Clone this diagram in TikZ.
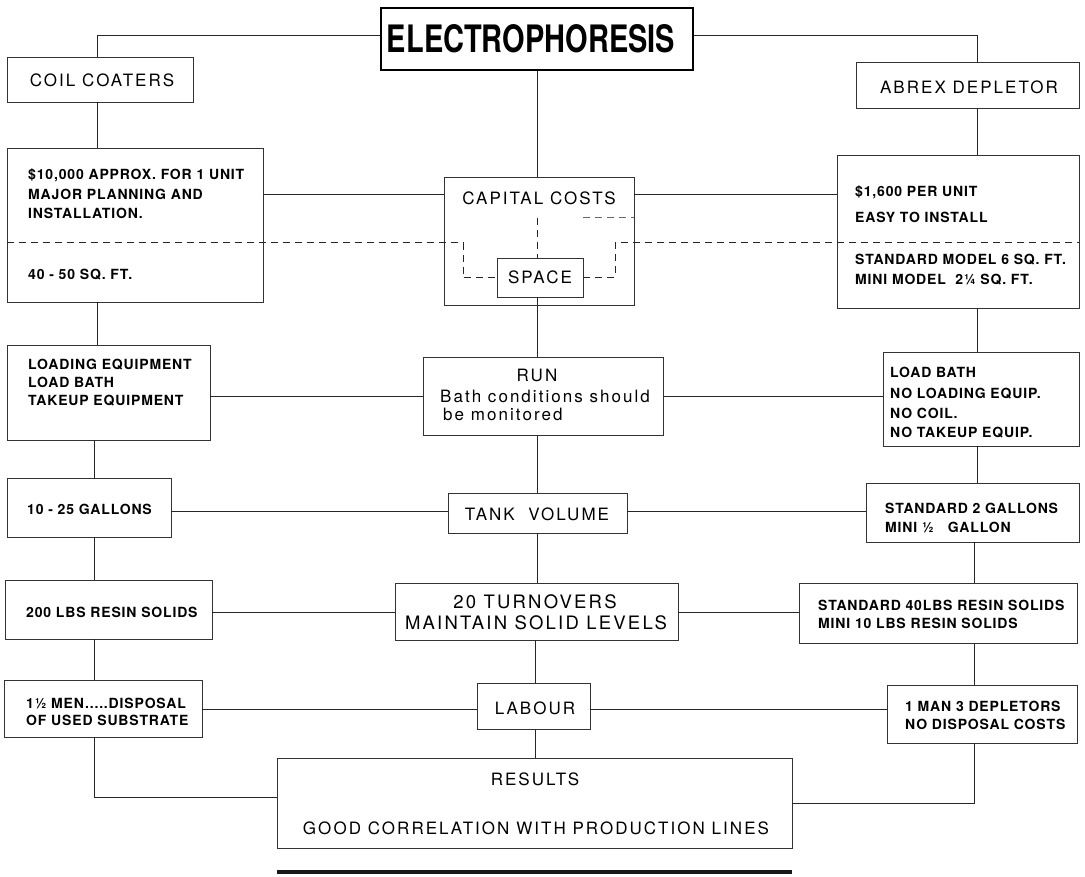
\documentclass[tikz,border=0pt]{standalone}
\usepackage{fontspec}
\usepackage{graphicx}
\setmainfont{TeX Gyre Heros}
\newfontfamily\litefont[LetterSpace=12]{TeX Gyre Heros}
\newfontfamily\smfont[LetterSpace=6]{TeX Gyre Heros}
\newcommand\mkbox[6][]{\node[box,#1,minimum width={(#5-#3)*1pt},minimum height={(#6-#4)*1pt}] (#2) at ({(#3+#5)/2},{(#4+#6)/2}) {};}
\tikzset{
  box/.style={draw=black!80,line width=0.75pt,inner sep=0pt,rectangle},
  conn/.style={draw=black!85,line width=1pt},
  dsh/.style={conn,dash pattern=on 7pt off 5pt},
  sm/.style={font=\smfont\fontsize{14}{14}\selectfont\bfseries,inner sep=0pt,anchor=west,text height=10pt,text depth=0pt},
  lt/.style={font=\litefont\fontsize{17}{17}\selectfont,inner sep=0pt,text height=12.2pt,text depth=0pt},
}
\begin{document}
\begin{tikzpicture}[x=1pt,y=-1pt]
\useasboundingbox (0,0) rectangle (1085,877);
% boxes
\mkbox[line width=2.6pt,draw=black]{title}{381}{8}{693}{70}
\mkbox{coil}{7}{57}{193}{102}
\mkbox{abrex}{856}{62}{1079}{108}
\mkbox{capL}{7}{148}{263}{302}
\mkbox{cap}{444}{177}{634}{305}
\mkbox[line width=0.6pt]{space}{497}{258}{583}{297}
\mkbox{capR}{837}{155}{1079}{308}
\mkbox{loadL}{7}{345}{210}{440}
\mkbox{run}{423}{357}{663}{435}
\mkbox{loadR}{883}{352}{1079}{446}
\mkbox{galL}{7}{478}{171}{537}
\mkbox{tank}{448}{493}{627}{533}
\mkbox{galR}{866}{483}{1079}{542}
\mkbox{resL}{5}{580}{212}{639}
\mkbox{turn}{395}{583}{678}{640}
\mkbox{resR}{799}{583}{1077}{643}
\mkbox{labL}{4}{680}{202}{737}
\mkbox{lab}{477}{683}{590}{729}
\mkbox{labR}{887}{685}{1077}{743}
\mkbox{res}{277}{758}{792}{848}
% texts
\node[inner sep=0pt,font=\bfseries] (ttl) at (531,39) {\resizebox{288pt}{28pt}{ELECTROPHORESIS}};
\node[lt] (tcoil) at (102,80) {COIL COATERS};
\node[lt] (tabrex) at (969,87) {ABREX DEPLETOR};
\node[sm] (a1) at (28,175) {\$10,000 APPROX. FOR 1 UNIT};
\node[sm] (a2) at (28,195) {MAJOR PLANNING AND};
\node[sm] (a3) at (28,214) {INSTALLATION.};
\node[sm] (a4) at (28,275) {40 - 50 SQ. FT.};
\node[lt] (tcap) at (539,198) {CAPITAL COSTS};
\node[lt] (tspace) at (540,277) {SPACE};
\node[sm] (b1) at (855,192) {\$1,600 PER UNIT};
\node[sm] (b2) at (855,218) {EASY TO INSTALL};
\node[sm] (b3) at (855,260) {STANDARD MODEL 6 SQ. FT.};
\node[sm] (b4) at (855,280) {MINI MODEL\ \ 2¼ SQ. FT.};
\node[sm] (c1) at (28,365) {LOADING EQUIPMENT};
\node[sm] (c2) at (28,383) {LOAD BATH};
\node[sm] (c3) at (28,401) {TAKEUP EQUIPMENT};
\node[lt] (trun) at (537,375) {RUN};
\node[lt,anchor=west] (trun2) at (440,396) {Bath conditions should};
\node[lt,anchor=west] (trun3) at (443,414) {be monitored};
\node[sm] (d1) at (890,373) {LOAD BATH};
\node[sm] (d2) at (890,394) {NO LOADING EQUIP.};
\node[sm] (d3) at (890,413) {NO COIL.};
\node[sm] (d4) at (890,433) {NO TAKEUP EQUIP.};
\node[sm] (e1) at (27,509) {10 - 25 GALLONS};
\node[lt] (ttank) at (537,514) {TANK\ \ VOLUME};
\node[sm] (f1) at (885,508) {STANDARD 2 GALLONS};
\node[sm] (f2) at (885,527) {MINI ½\ \ \ GALLON};
\node[sm] (g1) at (26,612) {200 LBS RESIN SOLIDS};
\node[lt,font=\litefont\fontsize{18.5}{18.5}\selectfont] (tturn1) at (535,602) {20 TURNOVERS};
\node[lt,font=\litefont\fontsize{18.5}{18.5}\selectfont] (tturn2) at (536,623) {MAINTAIN SOLID LEVELS};
\node[sm] (h1) at (818,605) {STANDARD 40LBS RESIN SOLIDS};
\node[sm] (h2) at (818,623) {MINI 10 LBS RESIN SOLIDS};
\node[sm] (i1) at (26,703) {1½ MEN.....DISPOSAL};
\node[sm] (i2) at (26,720) {OF USED SUBSTRATE};
\node[lt] (tlab) at (535,708) {LABOUR};
\node[sm] (j1) at (905,706) {1 MAN 3 DEPLETORS};
\node[sm] (j2) at (905,724) {NO DISPOSAL COSTS};
\node[lt] (tres1) at (535,779) {RESULTS};
\node[lt] (tres2) at (536,828) {GOOD CORRELATION WITH PRODUCTION LINES};
% named coordinates
\coordinate (L1) at (97,0);
\coordinate (L2) at (94,0);
\coordinate (R1) at (977,0);
\coordinate (R2) at (974,0);
\coordinate (C) at (537,0);
\coordinate (C2) at (535,0);
\coordinate (y0) at (0,36);
\coordinate (y1) at (0,195);
\coordinate (y2) at (0,243);
\coordinate (y3) at (0,218);
\coordinate (y4) at (0,397);
\coordinate (y5) at (0,511);
\coordinate (y6) at (0,612);
\coordinate (y7) at (0,709);
\coordinate (y8) at (0,797);
\coordinate (y9) at (0,803);
\coordinate (y10) at (0,872);
\coordinate (dl) at (463,0);
\coordinate (dr) at (615,0);
% connectors
\draw[conn] (title.west |- y0) -| (L1 |- coil.north);
\draw[conn] (title.east |- y0) -| (R1 |- abrex.north);
\draw[conn] (C |- title.south) -- (C |- cap.north);
\draw[conn] (L1 |- coil.south) -- (L1 |- capL.north);
\draw[conn] (R1 |- abrex.south) -- (R1 |- capR.north);
\draw[conn] (capL.east |- y1) -- (cap.west |- y1);
\draw[conn] (cap.east |- y1) -- (capR.west |- y1);
\draw[dsh] (capL.west |- y2) -- (dl |- y2) -- (dl |- space.west) -- (space.west);
\draw[dsh] (space.east) -- (dr |- space.east) -- (dr |- y2) -- (capR.east |- y2);
\draw[dsh] (C |- y3) -- (C |- space.north);
\draw[dsh,draw=black!60] (space.east |- y3) -- (cap.east |- y3);
\draw[conn] (C |- space.south) -- (C |- run.north);
\draw[conn] (L1 |- capL.south) -- (L1 |- loadL.north);
\draw[conn] (R1 |- capR.south) -- (R1 |- loadR.north);
\draw[conn] (loadL.east |- y4) -- (run.west |- y4);
\draw[conn] (run.east |- y4) -- (loadR.west |- y4);
\draw[conn] (C |- run.south) -- (C |- tank.north);
\draw[conn] (L2 |- loadL.south) -- (L2 |- galL.north);
\draw[conn] (R1 |- loadR.south) -- (R1 |- galR.north);
\draw[conn] (galL.east |- y5) -- (tank.west |- y5);
\draw[conn] (tank.east |- y5) -- (galR.west |- y5);
\draw[conn] (C |- tank.south) -- (C |- turn.north);
\draw[conn] (L2 |- galL.south) -- (L2 |- resL.north);
\draw[conn] (R2 |- galR.south) -- (R2 |- resR.north);
\draw[conn] (resL.east |- y6) -- (turn.west |- y6);
\draw[conn] (turn.east |- y6) -- (resR.west |- y6);
\draw[conn] (C2 |- turn.south) -- (C2 |- lab.north);
\draw[conn] (L2 |- resL.south) -- (L2 |- labL.north);
\draw[conn] (R2 |- resR.south) -- (R2 |- labR.north);
\draw[conn] (labL.east |- y7) -- (lab.west |- y7);
\draw[conn] (lab.east |- y7) -- (labR.west |- y7);
\draw[conn] (C2 |- lab.south) -- (C2 |- res.north);
\draw[conn] (L2 |- labL.south) -- (L2 |- y8) -- (res.west |- y8);
\draw[conn] (R2 |- labR.south) -- (R2 |- y9) -- (res.east |- y9);
\draw[line width=3.5pt,black!90] (res.west |- y10) -- (res.east |- y10);
\end{tikzpicture}
\end{document}
